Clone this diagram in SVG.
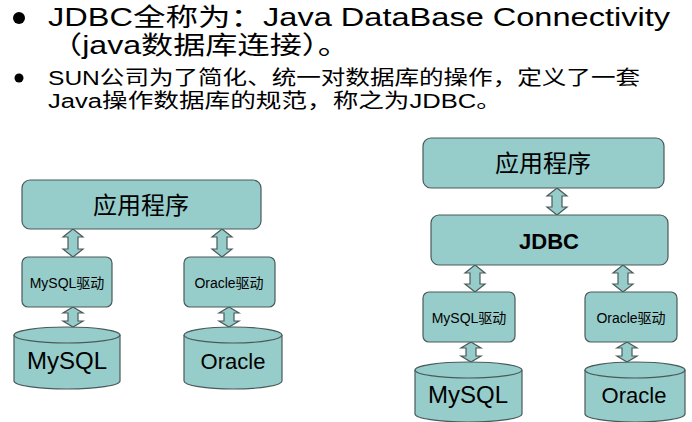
<svg xmlns="http://www.w3.org/2000/svg" width="692" height="422" viewBox="0 0 692 422">
<style>
.b{fill:#96CCCA;stroke:#4a5a5a;stroke-width:1.2}
.t{font-family:"Liberation Sans","Noto Sans CJK SC",sans-serif;fill:#000}
.c{text-anchor:middle}
</style>
<rect width="692" height="422" fill="#fff"/>
<g id="title">
<circle cx="19" cy="18" r="6" fill="#000"/>
<text class="t" x="48" y="26" font-size="25" textLength="622" lengthAdjust="spacingAndGlyphs">JDBC全称为：Java DataBase Connectivity</text>
<text class="t" x="50" y="54" font-size="25" textLength="300" lengthAdjust="spacingAndGlyphs">（java数据库连接）。</text>
<circle cx="19" cy="78" r="4.5" fill="#000"/>
<text class="t" x="48" y="85" font-size="20" textLength="592" lengthAdjust="spacingAndGlyphs">SUN公司为了简化、统一对数据库的操作，定义了一套</text>
<text class="t" x="48" y="108" font-size="20" textLength="454" lengthAdjust="spacingAndGlyphs">Java操作数据库的规范，称之为JDBC。</text>
</g>
<g id="connectors">
<path class="b" d="M73,229 L83,237 L78,237 L78,249 L83,249 L73,257 L63,249 L68,249 L68,237 L63,237 Z"/>
<path class="b" d="M222,229 L232,237 L227,237 L227,249 L232,249 L222,257 L212,249 L217,249 L217,237 L212,237 Z"/>
<path class="b" d="M73,307 L83,313 L78,313 L78,321 L83,321 L73,327 L63,321 L68,321 L68,313 L63,313 Z"/>
<path class="b" d="M229,307 L239,313 L234,313 L234,321 L239,321 L229,327 L219,321 L224,321 L224,313 L219,313 Z"/>
<path class="b" d="M557,188 L567,196 L562,196 L562,207 L567,207 L557,215 L547,207 L552,207 L552,196 L547,196 Z"/>
<path class="b" d="M475,265 L485,273 L480,273 L480,284 L485,284 L475,292 L465,284 L470,284 L470,273 L465,273 Z"/>
<path class="b" d="M623,265 L633,273 L628,273 L628,284 L633,284 L623,292 L613,284 L618,284 L618,273 L613,273 Z"/>
<path class="b" d="M471,342 L481,348 L476,348 L476,356 L481,356 L471,362 L461,356 L466,356 L466,348 L461,348 Z"/>
<path class="b" d="M627,342 L637,348 L632,348 L632,356 L637,356 L627,362 L617,356 L622,356 L622,348 L617,348 Z"/>
</g>
<g id="app1"><rect class="b" x="22" y="180" width="239" height="49" rx="8"/><text class="t c" x="141" y="214" font-size="24">应用程序</text></g>
<g id="mysqldrv1"><rect class="b" x="22" y="257" width="90" height="50" rx="6"/><text class="t c" x="67" y="288" font-size="14">MySQL驱动</text></g>
<g id="oracledrv1"><rect class="b" x="184" y="257" width="91" height="50" rx="6"/><text class="t c" x="229" y="288" font-size="14">Oracle驱动</text></g>
<g id="mysql1"><path class="b" d="M14,335 A53,8 0 0 1 120,335 L120,381 A53,8 0 0 1 14,381 Z"/><path class="b" fill="none" d="M14,335 A53,8 0 0 0 120,335"/><text class="t c" x="67" y="369" font-size="24">MySQL</text></g>
<g id="oracle1"><path class="b" d="M184,335 A49,8 0 0 1 282,335 L282,381 A49,8 0 0 1 184,381 Z"/><path class="b" fill="none" d="M184,335 A49,8 0 0 0 282,335"/><text class="t c" x="233" y="369" font-size="22">Oracle</text></g>
<g id="app2"><rect class="b" x="423" y="138" width="241" height="50" rx="8"/><text class="t c" x="543" y="172" font-size="24">应用程序</text></g>
<g id="jdbc"><rect class="b" x="431" y="215" width="237" height="50" rx="8"/><text class="t c" x="549" y="249" font-size="22" font-weight="bold">JDBC</text></g>
<g id="mysqldrv2"><rect class="b" x="423" y="292" width="92" height="50" rx="6"/><text class="t c" x="469" y="323" font-size="14">MySQL驱动</text></g>
<g id="oracledrv2"><rect class="b" x="585" y="292" width="92" height="50" rx="6"/><text class="t c" x="631" y="323" font-size="14">Oracle驱动</text></g>
<g id="mysql2"><path class="b" d="M415,370 A53.5,8 0 0 1 522,370 L522,414 A53.5,8 0 0 1 415,414 Z"/><path class="b" fill="none" d="M415,370 A53.5,8 0 0 0 522,370"/><text class="t c" x="468" y="403" font-size="24">MySQL</text></g>
<g id="oracle2"><path class="b" d="M585,370 A50,8 0 0 1 685,370 L685,414 A50,8 0 0 1 585,414 Z"/><path class="b" fill="none" d="M585,370 A50,8 0 0 0 685,370"/><text class="t c" x="634" y="403" font-size="22">Oracle</text></g>
</svg>
